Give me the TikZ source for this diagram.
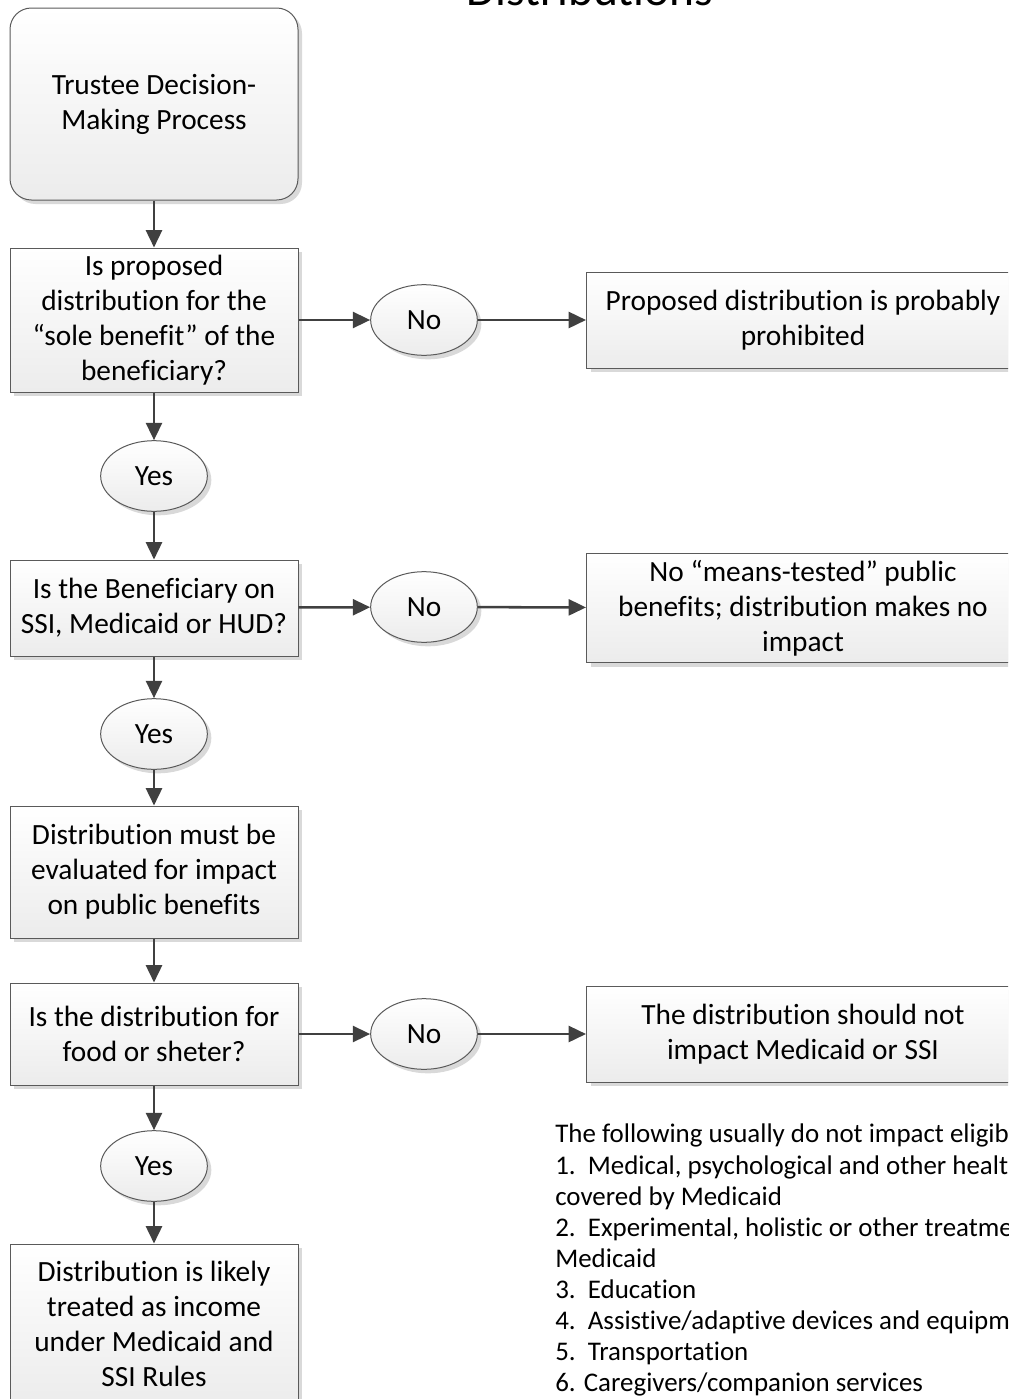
\documentclass[tikz,border=0pt]{standalone}
\usepackage{fontspec}
\setmainfont{Carlito}[Ligatures=NoCommon]
\usetikzlibrary{shapes.geometric,shadows,arrows.meta}
\definecolor{edgegray}{HTML}{5A5A5A}
\definecolor{flowgray}{HTML}{404040}
\begin{document}
\begin{tikzpicture}[x=0.75pt,y=-0.75pt,
  box/.style={draw=edgegray, line width=0.75pt, top color=white, bottom color=gray!15,
    align=center, inner sep=0pt, font=\fontsize{22}{26.25}\selectfont,
    drop shadow={shadow xshift=3pt, shadow yshift=-3pt, fill=gray!30, opacity=1}},
  leftbox/.style={box, minimum width=216pt},
  rightbox/.style={box, minimum width=324.75pt},
  answer/.style={box, ellipse, minimum width=80pt, minimum height=53pt},
  flow/.style={draw=flowgray, line width=1.9pt, -{Triangle[length=13pt,width=12pt]}}]
\useasboundingbox (0,0) rectangle (1008,1399);
\clip (0,0) rectangle (1008,1399);
\node[font=\fontsize{35.6}{40}\selectfont, anchor=base] (title) at (590,5) {Distributions};
% main column
\node[leftbox, rounded corners=16pt, minimum height=144pt] (1) at (154,104) {Trustee Decision-\\Making Process};
\node[leftbox, minimum height=108pt] (2) at (154,320) {Is proposed\\distribution for the\\“sole benefit” of the\\beneficiary?};
\node[leftbox, minimum height=72pt] (3) at (154,608) {Is the Beneficiary on\\SSI, Medicaid or HUD?};
\node[leftbox, minimum height=99pt] (4) at (154,872) {Distribution must be\\evaluated for impact\\on public benefits};
\node[leftbox, minimum height=76.5pt] (5) at (154,1034) {Is the distribution for\\food or sheter?};
\node[leftbox, minimum height=120pt] (6) at (154,1324) {Distribution is likely\\treated as income\\under Medicaid and\\SSI Rules};
% answers
\node[answer] (yes1) at (154,476) {Yes};
\node[answer] (yes2) at (154,734) {Yes};
\node[answer] (yes3) at (154,1166) {Yes};
\node[answer] (no1) at (424,320) {No};
\node[answer] (no2) at (424,607) {No};
\node[answer] (no3) at (424,1034) {No};
% outcomes
\node[rightbox, minimum height=72pt] (r1) at (803,320) {Proposed distribution is probably\\prohibited};
\node[rightbox, minimum height=81.75pt] (r2) at (803,608) {No “means-tested” public\\benefits; distribution makes no\\impact};
\node[rightbox, minimum height=72pt] (r3) at (803,1034) {The distribution should not\\impact Medicaid or SSI};
% note
\node[anchor=north west, align=left, inner sep=0pt, font=\fontsize{20.2}{23.3}\selectfont] (note) at (555,1124)
  {The following usually do not impact eligibility:\\
   1.\ \ Medical, psychological and other health services not\\
   covered by Medicaid\\
   2.\ \ Experimental, holistic or other treatments not covered by\\
   Medicaid\\
   3.\ \ Education\\
   4.\ \ Assistive/adaptive devices and equipment\\
   5.\ \ Transportation\\
   6. Caregivers/companion services};
\path[flow] (1) -- (2);
\path[flow] (2) -- (yes1);
\path[flow] (yes1) -- (3);
\path[flow] (3) -- (yes2);
\path[flow] (yes2) -- (4);
\path[flow] (4) -- (5);
\path[flow] (5) -- (yes3);
\path[flow] (yes3) -- (6);
\path[flow] (2) -- (no1);
\path[flow] (no1) -- (r1);
\path[flow] (3) -- (no2);
\path[flow] (no2) -- (r2);
\path[flow] (5) -- (no3);
\path[flow] (no3) -- (r3);
\end{tikzpicture}
\end{document}
